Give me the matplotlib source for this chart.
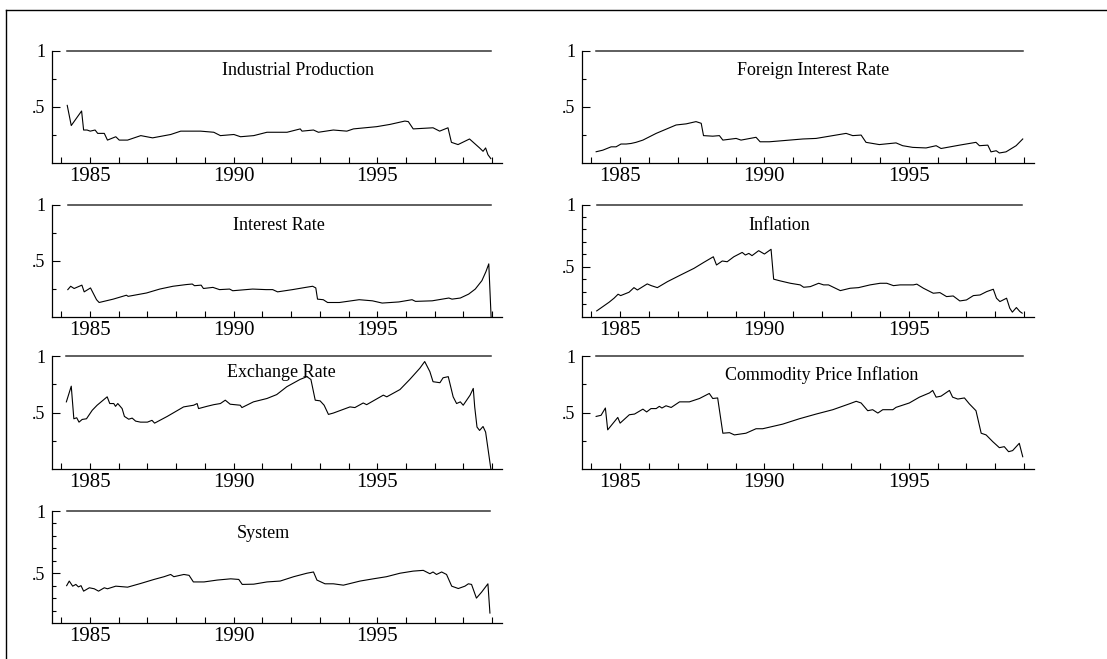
import matplotlib
matplotlib.use("Agg")
import matplotlib.pyplot as plt
from matplotlib.lines import Line2D

plt.rcParams['font.family'] = ['Liberation Serif', 'DejaVu Serif']

# ---------------- data (year, value) ----------------
ip_years = [1984.21, 1984.35, 1984.71, 1984.78, 1984.90, 1985.01, 1985.18, 1985.27, 1985.50, 1985.61,
            1985.90, 1986.02, 1986.31, 1986.77, 1987.18, 1987.81, 1988.16, 1988.85, 1989.31, 1989.54,
            1990.01, 1990.24, 1990.70, 1991.16, 1991.86, 1992.32, 1992.38, 1992.78, 1992.95, 1993.47,
            1993.94, 1994.17, 1994.98, 1995.44, 1995.96, 1996.08, 1996.25, 1996.94, 1997.17, 1997.46,
            1997.58, 1997.81, 1998.21, 1998.56, 1998.68, 1998.77, 1998.85, 1998.95]
ip_vals = [0.51, 0.33, 0.46, 0.29, 0.29, 0.28, 0.29, 0.26, 0.26, 0.20,
           0.23, 0.20, 0.20, 0.24, 0.22, 0.25, 0.28, 0.28, 0.27, 0.24,
           0.25, 0.23, 0.24, 0.27, 0.27, 0.30, 0.28, 0.29, 0.27, 0.29,
           0.28, 0.30, 0.32, 0.34, 0.37, 0.365, 0.30, 0.31, 0.28, 0.31,
           0.18, 0.16, 0.21, 0.13, 0.10, 0.13, 0.07, 0.035]

fir_years = [1984.17, 1984.40, 1984.69, 1984.86, 1985.03, 1985.21, 1985.38, 1985.55, 1985.79, 1986.25,
             1986.71, 1986.94, 1987.29, 1987.63, 1987.81, 1987.89, 1988.21, 1988.44, 1988.56, 1989.02,
             1989.19, 1989.71, 1989.85, 1990.17, 1990.64, 1991.33, 1991.79, 1992.37, 1992.83, 1993.06,
             1993.35, 1993.52, 1993.98, 1994.56, 1994.79, 1995.14, 1995.60, 1995.95, 1996.12, 1996.76,
             1997.33, 1997.45, 1997.74, 1997.85, 1998.03, 1998.14, 1998.37, 1998.72, 1998.95]
fir_vals = [0.096, 0.11, 0.14, 0.14, 0.165, 0.165, 0.17, 0.18, 0.20, 0.26,
            0.31, 0.335, 0.345, 0.365, 0.35, 0.24, 0.235, 0.24, 0.20, 0.215,
            0.20, 0.225, 0.185, 0.185, 0.195, 0.21, 0.215, 0.24, 0.26, 0.24,
            0.245, 0.18, 0.16, 0.175, 0.15, 0.135, 0.13, 0.15, 0.125, 0.155,
            0.18, 0.15, 0.155, 0.095, 0.105, 0.085, 0.095, 0.15, 0.21]

ir_years = [1984.23, 1984.33, 1984.45, 1984.72, 1984.80, 1985.02, 1985.23, 1985.32, 1985.81, 1986.27,
            1986.33, 1986.97, 1987.43, 1987.89, 1988.35, 1988.56, 1988.64, 1988.87, 1988.95, 1989.28,
            1989.51, 1989.86, 1989.97, 1990.66, 1991.13, 1991.36, 1991.53, 1992.05, 1992.51, 1992.75,
            1992.86, 1992.92, 1993.12, 1993.27, 1993.68, 1994.37, 1994.83, 1995.17, 1995.75, 1996.21,
            1996.33, 1996.91, 1997.49, 1997.60, 1997.89, 1998.18, 1998.41, 1998.64, 1998.78, 1998.88,
            1998.96]
ir_vals = [0.24, 0.27, 0.25, 0.28, 0.22, 0.255, 0.15, 0.125, 0.155, 0.19,
           0.18, 0.21, 0.245, 0.27, 0.285, 0.29, 0.275, 0.28, 0.25, 0.26,
           0.24, 0.245, 0.23, 0.245, 0.24, 0.24, 0.22, 0.24, 0.26, 0.27,
           0.255, 0.155, 0.15, 0.125, 0.125, 0.15, 0.14, 0.12, 0.13, 0.15,
           0.135, 0.14, 0.165, 0.155, 0.165, 0.20, 0.245, 0.32, 0.40, 0.47,
           0.0]

inf_years = [1984.19, 1984.62, 1984.79, 1984.93, 1985.02, 1985.31, 1985.48, 1985.60, 1985.94, 1986.08,
             1986.29, 1986.64, 1987.10, 1987.56, 1987.90, 1988.23, 1988.34, 1988.54, 1988.71, 1988.94,
             1989.23, 1989.34, 1989.46, 1989.57, 1989.80, 1990.00, 1990.23, 1990.32, 1990.55, 1990.90,
             1991.24, 1991.36, 1991.59, 1991.88, 1992.05, 1992.22, 1992.63, 1992.97, 1993.26, 1993.66,
             1994.01, 1994.24, 1994.47, 1994.70, 1995.16, 1995.28, 1995.51, 1995.85, 1996.08, 1996.31,
             1996.54, 1996.77, 1997.00, 1997.24, 1997.47, 1997.70, 1997.93, 1998.04, 1998.16, 1998.39,
             1998.50, 1998.59, 1998.73, 1998.85, 1998.93]
inf_vals = [0.145, 0.215, 0.247, 0.279, 0.268, 0.295, 0.332, 0.313, 0.362, 0.348,
            0.332, 0.38, 0.434, 0.487, 0.535, 0.58, 0.514, 0.546, 0.54, 0.58,
            0.615, 0.594, 0.607, 0.589, 0.629, 0.602, 0.64, 0.40, 0.386, 0.367,
            0.354, 0.335, 0.34, 0.367, 0.354, 0.354, 0.308, 0.327, 0.332, 0.354,
            0.367, 0.367, 0.348, 0.354, 0.354, 0.36, 0.327, 0.287, 0.292, 0.26,
            0.265, 0.225, 0.233, 0.268, 0.273, 0.30, 0.319, 0.247, 0.22, 0.247,
            0.167, 0.135, 0.172, 0.14, 0.127]

er_years = [1984.18, 1984.35, 1984.44, 1984.54, 1984.62, 1984.73, 1984.88, 1985.08, 1985.25, 1985.60,
            1985.69, 1985.83, 1985.89, 1985.97, 1986.12, 1986.20, 1986.35, 1986.47, 1986.59, 1986.76,
            1987.00, 1987.16, 1987.25, 1987.69, 1988.26, 1988.61, 1988.73, 1988.78, 1989.07, 1989.31,
            1989.54, 1989.71, 1989.88, 1990.23, 1990.29, 1990.69, 1991.16, 1991.50, 1991.85, 1992.31,
            1992.55, 1992.69, 1992.84, 1993.01, 1993.15, 1993.30, 1993.47, 1994.05, 1994.22, 1994.51,
            1994.63, 1995.21, 1995.33, 1995.79, 1996.13, 1996.48, 1996.65, 1996.83, 1996.94, 1997.18,
            1997.29, 1997.47, 1997.64, 1997.76, 1997.89, 1997.99, 1998.23, 1998.34, 1998.39, 1998.47,
            1998.56, 1998.68, 1998.77, 1998.95]
er_vals = [0.595, 0.735, 0.444, 0.453, 0.414, 0.438, 0.444, 0.52, 0.565, 0.64,
           0.58, 0.58, 0.555, 0.58, 0.535, 0.465, 0.44, 0.45, 0.423, 0.414,
           0.414, 0.43, 0.405, 0.465, 0.55, 0.565, 0.58, 0.535, 0.555, 0.57,
           0.58, 0.61, 0.574, 0.565, 0.544, 0.595, 0.625, 0.66, 0.73, 0.795,
           0.82, 0.795, 0.61, 0.604, 0.565, 0.483, 0.495, 0.55, 0.544, 0.585,
           0.57, 0.655, 0.64, 0.705, 0.795, 0.895, 0.955, 0.865, 0.775, 0.766,
           0.81, 0.82, 0.64, 0.58, 0.595, 0.565, 0.655, 0.715, 0.55, 0.37,
           0.34, 0.375, 0.325, 0.0]

cpi_years = [1984.17, 1984.34, 1984.49, 1984.57, 1984.92, 1985.00, 1985.32, 1985.50, 1985.79, 1985.92,
             1986.07, 1986.25, 1986.36, 1986.45, 1986.59, 1986.77, 1987.06, 1987.40, 1987.75, 1988.09,
             1988.21, 1988.38, 1988.56, 1988.79, 1988.96, 1989.36, 1989.71, 1989.94, 1990.63, 1991.21,
             1991.79, 1992.37, 1992.94, 1993.18, 1993.35, 1993.58, 1993.75, 1993.93, 1994.10, 1994.45,
             1994.56, 1995.02, 1995.37, 1995.72, 1995.83, 1995.95, 1996.12, 1996.41, 1996.52, 1996.70,
             1996.93, 1997.10, 1997.33, 1997.51, 1997.68, 1997.91, 1998.14, 1998.31, 1998.46, 1998.60,
             1998.83, 1998.95]
cpi_vals = [0.465, 0.475, 0.54, 0.345, 0.456, 0.405, 0.48, 0.486, 0.53, 0.505,
            0.535, 0.535, 0.555, 0.54, 0.56, 0.545, 0.595, 0.595, 0.625, 0.67,
            0.625, 0.63, 0.315, 0.32, 0.30, 0.315, 0.355, 0.355, 0.396, 0.444,
            0.486, 0.525, 0.577, 0.60, 0.585, 0.516, 0.525, 0.495, 0.525, 0.525,
            0.546, 0.585, 0.637, 0.675, 0.697, 0.637, 0.646, 0.697, 0.637, 0.62,
            0.63, 0.577, 0.516, 0.315, 0.30, 0.24, 0.186, 0.195, 0.15, 0.16,
            0.225, 0.105]

sys_years = [1984.19, 1984.28, 1984.40, 1984.51, 1984.60, 1984.69, 1984.78, 1984.98, 1985.15, 1985.30,
             1985.50, 1985.61, 1985.90, 1986.31, 1986.77, 1987.23, 1987.58, 1987.81, 1987.92, 1988.27,
             1988.45, 1988.60, 1988.97, 1989.43, 1989.90, 1990.18, 1990.30, 1990.70, 1991.16, 1991.62,
             1992.09, 1992.55, 1992.78, 1992.90, 1993.18, 1993.47, 1993.82, 1994.40, 1994.86, 1995.32,
             1995.79, 1996.25, 1996.60, 1996.83, 1996.94, 1997.06, 1997.24, 1997.41, 1997.59, 1997.82,
             1998.05, 1998.17, 1998.28, 1998.45, 1998.63, 1998.85, 1998.92]
sys_vals = [0.40, 0.437, 0.396, 0.41, 0.39, 0.40, 0.356, 0.383, 0.375, 0.356,
            0.383, 0.375, 0.396, 0.388, 0.418, 0.45, 0.472, 0.49, 0.472, 0.49,
            0.483, 0.43, 0.43, 0.445, 0.455, 0.45, 0.41, 0.412, 0.43, 0.437,
            0.472, 0.50, 0.51, 0.445, 0.415, 0.415, 0.404, 0.437, 0.455, 0.472,
            0.50, 0.517, 0.523, 0.496, 0.51, 0.49, 0.51, 0.49, 0.396, 0.377,
            0.396, 0.415, 0.41, 0.30, 0.348, 0.415, 0.18]

titles = ["Industrial Production", "Foreign Interest Rate", "Interest Rate", "Inflation",
          "Exchange Rate", "Commodity Price Inflation", "System"]
series_years = [ip_years, fir_years, ir_years, inf_years, er_years, cpi_years, sys_years]
series_vals = [ip_vals, fir_vals, ir_vals, inf_vals, er_vals, cpi_vals, sys_vals]
y_bottoms = [0.0, 0.0, 0.0, 0.1, 0.0, 0.0, 0.1]
title_pos = [(1992.23, 0.82), (1991.70, 0.82), (1991.57, 0.81), (1990.51, 0.83),
             (1991.67, 0.855), (1991.97, 0.83), (1991.05, 0.82)]
year_ticks = [1985, 1990, 1995]
year_minor = list(range(1984, 2000))

# ---------------- layout ----------------
W, H = 1107, 659
fig = plt.figure(figsize=(W / 100, H / 100), dpi=100)

col_left = [52 / W, 582 / W]
col_w = [450 / W, 452 / W]
row_bottom_px = [162.5, 316.5, 468.5, 623]
ax_h = 112 / H

# outer frame (top and left lines)
fig.add_artist(Line2D([6 / W, 1.0], [1 - 10 / H, 1 - 10 / H], transform=fig.transFigure,
                      color='black', lw=1.0))
fig.add_artist(Line2D([6 / W, 6 / W], [0.0, 1 - 10 / H], transform=fig.transFigure,
                      color='black', lw=1.0))

for i, title in enumerate(titles):
    r, c = divmod(i, 2)
    ax = fig.add_axes([col_left[c], 1 - row_bottom_px[r] / H, col_w[c], ax_h])
    yrs, vals = series_years[i], series_vals[i]
    ybot = y_bottoms[i]
    ax.plot(yrs, vals, color='black', lw=0.8)
    ax.plot([yrs[0], yrs[-1]], [1, 1], color='#333333', lw=1.1, clip_on=False)
    ax.set_xlim(1983.68, 1999.34)
    ax.set_ylim(ybot, 1.0)
    for s in ['top', 'right']:
        ax.spines[s].set_visible(False)
    for s in ['left', 'bottom']:
        ax.spines[s].set_linewidth(0.9)
    ax.set_xticks(year_ticks)
    ax.set_xticklabels([str(y) for y in year_ticks])
    ax.set_xticks(year_minor, minor=True)
    ax.set_yticks([0.5, 1.0])
    ax.set_yticklabels(['.5', '1'])
    if ybot > 0:
        ax.set_yticks([0.2, 0.3, 0.4, 0.6, 0.7, 0.8, 0.9], minor=True)
    else:
        ax.set_yticks([0.25, 0.75], minor=True)
    ax.tick_params(axis='x', which='both', direction='in', length=4.5, width=0.8,
                   labelsize=15, pad=3)
    ax.tick_params(axis='y', which='major', direction='in', length=6, width=0.8,
                   labelsize=13, pad=5)
    ax.tick_params(axis='y', which='minor', direction='in', length=3, width=0.8)
    tx, ty = title_pos[i]
    ax.text(tx, ty, title, ha='center', va='center', fontsize=13)

fig.savefig("out.png", dpi=100)
